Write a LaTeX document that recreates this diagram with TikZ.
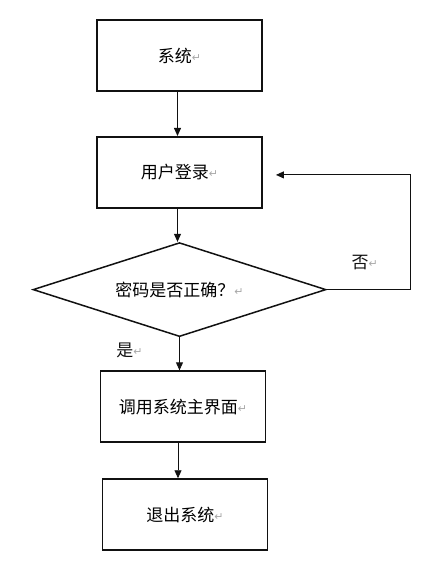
\documentclass[tikz,border=0pt]{standalone}
\usepackage{fontspec}
\setmainfont{Noto Sans CJK SC}
\newfontfamily\markfont{DejaVu Sans}
\usetikzlibrary{arrows.meta,positioning,shapes.geometric}
\definecolor{flowInk}{HTML}{111111}
\definecolor{flowMark}{HTML}{A8A8A8}
\newcommand{\parmark}{{\markfont\color{flowMark}\fontsize{11}{11}\selectfont\raisebox{1pt}{↵}}}
\tikzset{
  flow/base/.style={draw=flowInk, line width=1.9pt, inner sep=0pt,
    align=center, font=\fontsize{17}{20}\selectfont},
  flow/box/.style={flow/base, minimum width=165pt, minimum height=71pt},
  flow/decision/.style={flow/base, diamond, aspect=3.12, line width=1.5pt,
    minimum width=293pt, minimum height=94pt},
  flow/arrow/.style={-{Triangle[length=8pt,width=7pt]}, draw=flowInk,
    line width=0.9pt},
  flow/note/.style={font=\fontsize{17}{20}\selectfont, text=flowInk},
}

\begin{document}
\begin{tikzpicture}[x=1pt, y=1pt, node distance=35pt]
\useasboundingbox (0,0) rectangle (437,-571);
\node[flow/box] (sys) at (179.5,-55.5) {系统\parmark};
\node[flow/box, below=44pt of sys] (login) {用户登录\parmark};
\node[flow/decision, below=33pt of login] (check) {密码是否正确？\parmark};
\node[flow/box, below=33pt of check, xshift=3.5pt] (menu) {调用系统主界面\parmark};
\node[flow/box, below=of menu, xshift=2pt] (quit) {退出系统\parmark};
% branch labels
\node[flow/note] (no) at ([xshift=38pt,yshift=27pt]check.east) {否\parmark};
\node[flow/note] (yes) at ([xshift=-50pt,yshift=-13pt]check.south) {是\parmark};
\coordinate (back) at ([xshift=13pt,yshift=-2.5pt]login.east);
\draw[flow/arrow] ([xshift=-2pt]sys.south) -- ([xshift=-2pt]login.north);
\draw[flow/arrow] ([xshift=-2pt]login.south) -- ([xshift=-2pt]login.south |- check.north);
\draw[flow/arrow] (check.south) -- (check.south |- menu.north);
\draw[flow/arrow] ([xshift=-5pt]menu.south) -- ([xshift=-5pt]menu.south |- quit.north);
\draw[flow/arrow] (check.east) -- ++(84pt,0) |- (back);
\end{tikzpicture}
\end{document}
